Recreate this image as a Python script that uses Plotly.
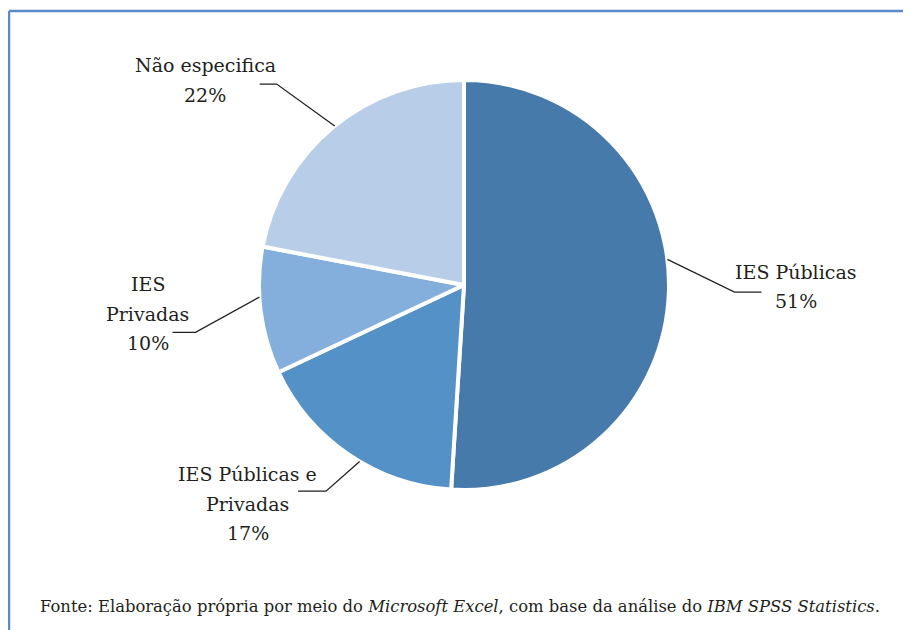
import math
import plotly.graph_objects as go

# ---- data ----
categories = ["IES Públicas", "IES Públicas e Privadas", "IES Privadas", "Não especifica"]
values = [51, 17, 10, 22]
label_lines = [["IES Públicas", "51%"], ["IES Públicas e", "Privadas", "17%"],
               ["IES", "Privadas", "10%"], ["Não especifica", "22%"]]
colors = ["#467AAA", "#5491C7", "#84AEDB", "#B7CDE8"]
source_text = ("Fonte: Elaboração própria por meio do <i>Microsoft Excel</i>, "
               "com base da análise do <i>IBM SPSS Statistics</i>.")

# page geometry: the browser body has an 8px margin
OFF = 8
PW, PH = 911, 630
W, H = PW - OFF, PH - OFF
CX, CY, R = 464, 285, 205  # pie centre / radius in page pixels (layout)
LINE_GAP = 29.5

# per-label layout tweaks
edge_nudge = [-9.0, -3.6, 3.8, 0.5]
elbow_f = [1.32, 1.21, 1.33, 1.34]
elbow_nudge = [-0.3, -0.4, -2.8, -3.4]
label_f = [1.62, 1.50, 1.55, 1.61]
label_nudge = [-1.5, 10.5, 2.0, -12.0]
hrun = [27, 28, 23, 17]

def px(x):
    return (x - OFF) / W

def py(y):
    return 1 - (y - OFF) / H

def pt(rf, deg):
    t = math.radians(deg)
    return CX + R * rf * math.sin(t), CY - R * rf * math.cos(t)

fig = go.Figure(go.Pie(
    labels=categories, values=values, sort=False, direction="clockwise", rotation=0,
    marker=dict(colors=colors, line=dict(color="white", width=4)),
    textinfo="none", hoverinfo="label+percent", showlegend=False,
    domain=dict(x=[px(CX - R), px(CX + R)], y=[py(CY + R), py(CY - R)]),
))

total = sum(values)
cum = 0
shapes = []
annotations = []
FONT = "DejaVu Serif"
font = dict(family=FONT, size=19, color="#231F20")
for i, v in enumerate(values):
    mid = (cum + v / 2) / total * 360
    cum += v
    ex, ey = pt(1.0, mid + edge_nudge[i])
    bx, by = pt(elbow_f[i], mid + elbow_nudge[i])
    side = 1 if math.sin(math.radians(mid)) > 0 else -1
    hx = bx + side * hrun[i]
    shapes.append(dict(type="path", xref="paper", yref="paper",
                       path=f"M {px(ex)} {py(ey)} L {px(bx)} {py(by)} L {px(hx)} {py(by)}",
                       line=dict(color="#231F20", width=1.3)))
    lx, ly = pt(label_f[i], mid + label_nudge[i])
    n = len(label_lines[i])
    for k, line in enumerate(label_lines[i]):
        yy = ly + (k - (n - 1) / 2) * LINE_GAP
        annotations.append(dict(x=px(lx), y=py(yy), xref="paper", yref="paper", text=line,
                                showarrow=False, font=font, align="center",
                                xanchor="center", yanchor="middle"))

annotations.append(dict(x=px(38), y=py(606), xref="paper", yref="paper", text=source_text,
                        showarrow=False, xanchor="left", yanchor="middle",
                        font=dict(family=FONT, size=16.4, color="#231F20")))

# frame (top and left edges)
shapes.append(dict(type="line", xref="paper", yref="paper", x0=px(9), x1=1, y0=py(11), y1=py(11),
                   line=dict(color="#5B8BC8", width=2.5)))
shapes.append(dict(type="line", xref="paper", yref="paper", x0=px(9), x1=px(9), y0=py(11), y1=0,
                   line=dict(color="#5B8BC8", width=2.5)))

fig.update_layout(width=W, height=H, margin=dict(l=0, r=0, t=0, b=0),
                  paper_bgcolor="white", plot_bgcolor="white",
                  shapes=shapes, annotations=annotations)

fig.write_html("out.html")
